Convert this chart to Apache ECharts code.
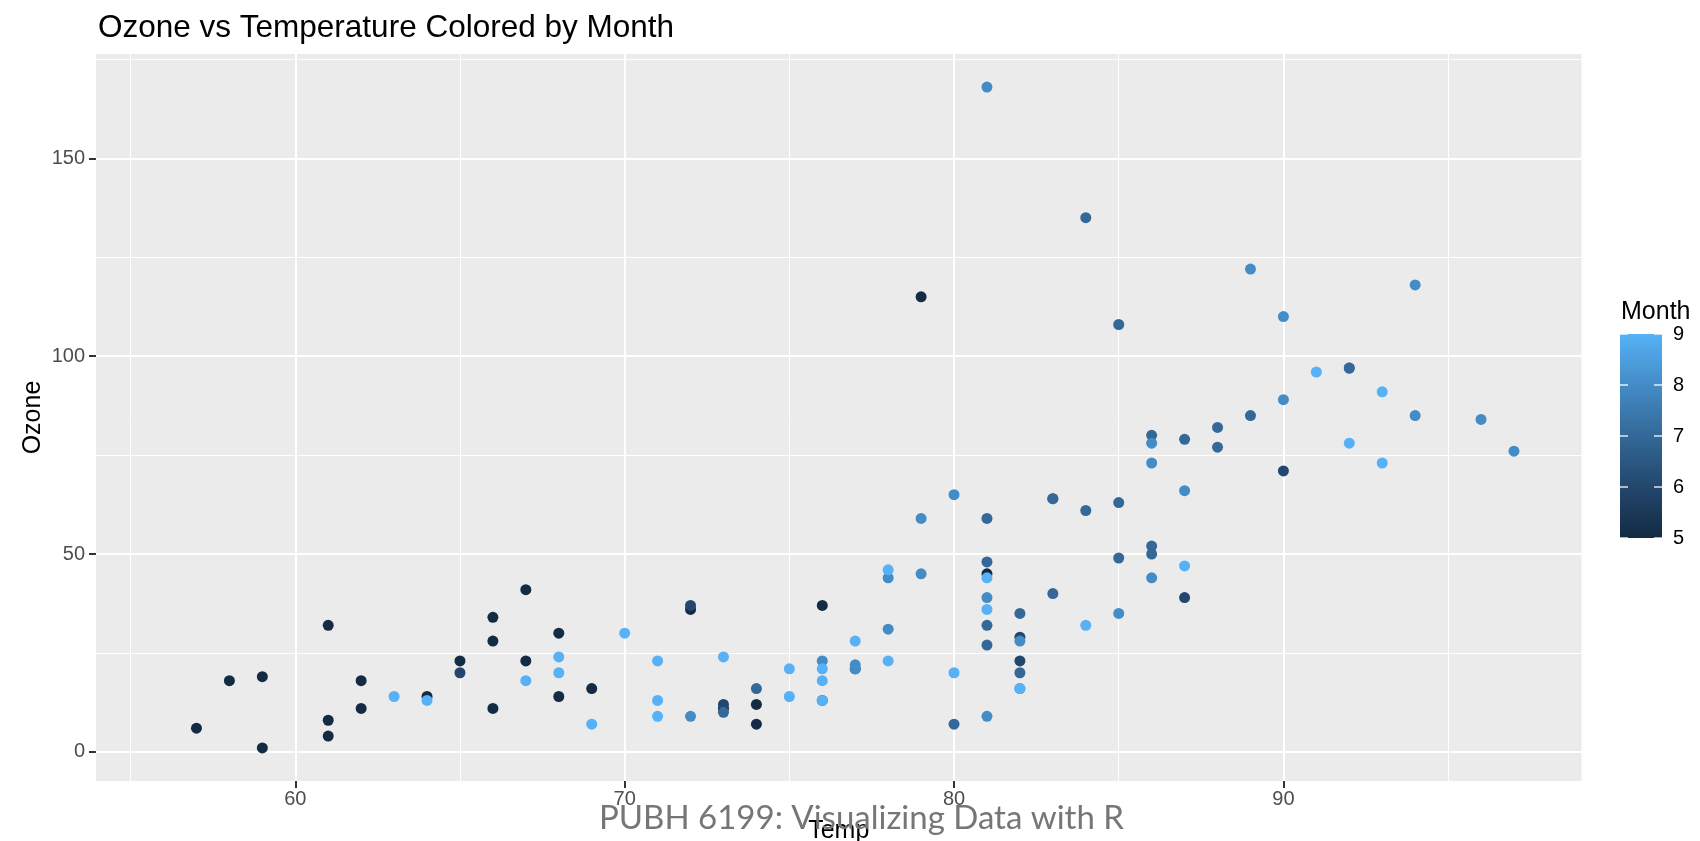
<!DOCTYPE html>
<html>
<head>
<meta charset="utf-8">
<title>Ozone vs Temperature Colored by Month</title>
<script src="https://cdn.jsdelivr.net/npm/echarts@6/dist/echarts.min.js"></script>
<style>
  html, body { margin: 0; padding: 0; background: #ffffff; }
  #chart { width: 1700px; height: 841px; }
</style>
</head>
<body>
<div id="chart"></div>
<script>
// airquality rows with a recorded Ozone value, in row order
const temp = [
  67, 72, 74, 62, 66, 65, 59, 61, 74, 69, 66, 68, 58, 64, 66, 57, 68, 62, 59, 73, 61, 61, 67, 81, 79, 76,
  82, 90, 87, 82, 77, 72, 65, 73, 76,
  84, 85, 81, 83, 83, 88, 92, 92, 89, 73, 81, 80, 81, 82, 84, 87, 85, 74, 86, 85, 82, 86, 88, 86, 83, 81,
  81, 81, 82, 86, 85, 87, 89, 90, 90, 86, 82, 80, 77, 79, 76, 78, 78, 77, 72, 79, 81, 86, 97, 94, 96, 94,
  91, 92, 93, 93, 87, 84, 80, 78, 75, 73, 81, 76, 77, 71, 71, 78, 67, 76, 68, 82, 64, 71, 81, 69, 63, 70, 75, 76, 68
];
const ozone = [
  41, 36, 12, 18, 28, 23, 19, 8, 7, 16, 11, 14, 18, 14, 34, 6, 30, 11, 1, 11, 4, 32, 23, 45, 115, 37,
  29, 71, 39, 23, 21, 37, 20, 12, 13,
  135, 49, 32, 64, 40, 77, 97, 97, 85, 10, 27, 7, 48, 35, 61, 79, 63, 16, 80, 108, 20, 52, 82, 50, 64, 59,
  39, 9, 16, 78, 35, 66, 122, 89, 110, 44, 28, 65, 22, 59, 23, 31, 44, 21, 9, 45, 168, 73, 76, 118, 84, 85,
  96, 78, 73, 91, 47, 32, 20, 23, 21, 24, 44, 21, 28, 9, 13, 46, 18, 13, 24, 16, 13, 23, 36, 7, 14, 30, 14, 18, 20
];
const month = [
  5, 5, 5, 5, 5, 5, 5, 5, 5, 5, 5, 5, 5, 5, 5, 5, 5, 5, 5, 5, 5, 5, 5, 5, 5, 5,
  6, 6, 6, 6, 6, 6, 6, 6, 6,
  7, 7, 7, 7, 7, 7, 7, 7, 7, 7, 7, 7, 7, 7, 7, 7, 7, 7, 7, 7, 7, 7, 7, 7, 7, 7,
  8, 8, 8, 8, 8, 8, 8, 8, 8, 8, 8, 8, 8, 8, 8, 8, 8, 8, 8, 8, 8, 8, 8, 8, 8, 8,
  9, 9, 9, 9, 9, 9, 9, 9, 9, 9, 9, 9, 9, 9, 9, 9, 9, 9, 9, 9, 9, 9, 9, 9, 9, 9, 9, 9, 9
];

// axis breaks
const xBreaks = [60, 70, 80, 90];
const xMinorBreaks = [55, 65, 75, 85, 95];
const yBreaks = [0, 50, 100, 150];
const yMinorBreaks = [25, 75, 125, 175];
const monthBreaks = [5, 6, 7, 8, 9];

// sequential blue gradient, Month 5 -> 9 (Lab-interpolated stops)
const monthColors = ['#132B43', '#23476C', '#336898', '#448CC6', '#56B1F7'];

const points = temp.map((t, i) => [t, ozone[i], month[i]]);

// continuous scale limits with 5% padding on each side
function padded(values) {
  const lo = Math.min(...values), hi = Math.max(...values);
  const pad = (hi - lo) * 0.05;
  return [lo - pad, hi + pad];
}
const xLim = padded(temp.concat([56]));
const yLim = padded(ozone);

const font = 'Liberation Sans, Arial, Helvetica, sans-serif';
const PANEL = { left: 96, top: 54, width: 1485.5, height: 727 };

const chart = echarts.init(document.getElementById('chart'), null, { renderer: 'canvas' });

const majorX = {
  type: 'value', gridIndex: 0, min: xLim[0], max: xLim[1], position: 'bottom',
  name: 'Temp', nameLocation: 'middle', nameGap: 38, nameMoveOverlap: false,
  nameTextStyle: { fontFamily: font, fontSize: 25, color: '#000000' },
  axisLine: { show: false, onZero: false },
  axisTick: { show: true, customValues: xBreaks, length: 7, lineStyle: { color: '#333333', width: 2 } },
  axisLabel: { customValues: xBreaks, fontFamily: font, fontSize: 20, color: '#4D4D4D', margin: 8 },
  splitLine: { show: true, lineStyle: { color: '#FFFFFF', width: 2 } },
  z: 1
};
const minorX = {
  type: 'value', gridIndex: 0, min: xLim[0], max: xLim[1], position: 'bottom',
  axisLine: { show: false, onZero: false },
  axisTick: { show: false, customValues: xMinorBreaks },
  axisLabel: { show: false, customValues: xMinorBreaks },
  splitLine: { show: true, lineStyle: { color: '#FFFFFF', width: 1 } },
  z: 0
};
const majorY = {
  type: 'value', gridIndex: 0, min: yLim[0], max: yLim[1], position: 'left',
  name: 'Ozone', nameLocation: 'middle', nameGap: 50, nameRotate: 90, nameMoveOverlap: false,
  nameTextStyle: { fontFamily: font, fontSize: 25, color: '#000000' },
  axisLine: { show: false, onZero: false },
  axisTick: { show: true, customValues: yBreaks, length: 7, lineStyle: { color: '#333333', width: 2 } },
  axisLabel: { customValues: yBreaks, fontFamily: font, fontSize: 20, color: '#4D4D4D', margin: 11 },
  splitLine: { show: true, lineStyle: { color: '#FFFFFF', width: 2 } },
  z: 1
};
const minorY = {
  type: 'value', gridIndex: 0, min: yLim[0], max: yLim[1], position: 'left',
  axisLine: { show: false, onZero: false },
  axisTick: { show: false, customValues: yMinorBreaks },
  axisLabel: { show: false, customValues: yMinorBreaks },
  splitLine: { show: true, lineStyle: { color: '#FFFFFF', width: 1 } },
  z: 0
};

// colour bar axes
const barX = { type: 'value', gridIndex: 1, min: 0, max: 1, show: false };
const barYRight = {
  type: 'value', gridIndex: 1, min: monthBreaks[0], max: monthBreaks[monthBreaks.length - 1], interval: 1,
  position: 'right',
  axisLine: { show: false, onZero: false },
  axisTick: { show: true, inside: true, length: 8, lineStyle: { color: 'rgba(255,255,255,0.85)', width: 1.5 } },
  axisLabel: { fontFamily: font, fontSize: 20, color: '#000000', margin: 11 },
  splitLine: { show: false },
  z: 10
};
const barYLeft = {
  type: 'value', gridIndex: 1, min: monthBreaks[0], max: monthBreaks[monthBreaks.length - 1], interval: 1,
  position: 'left',
  axisLine: { show: false, onZero: false },
  axisTick: { show: true, inside: true, length: 8, lineStyle: { color: 'rgba(255,255,255,0.85)', width: 1.5 } },
  axisLabel: { show: false },
  splitLine: { show: false },
  z: 10
};

const barGradient = new echarts.graphic.LinearGradient(0, 0, 0, 1,
  monthColors.slice().reverse().map((c, i, arr) => ({ offset: i / (arr.length - 1), color: c })));

const option = {
  animation: false,
  backgroundColor: '#FFFFFF',
  title: [
    {
      text: 'Ozone vs Temperature Colored by Month',
      left: 93, top: 7,
      textStyle: { fontFamily: font, fontSize: 31.5, fontWeight: 'normal', color: '#000000' }
    },
    {
      text: 'Month',
      left: 1616, top: 295,
      textStyle: { fontFamily: font, fontSize: 25, fontWeight: 'normal', color: '#000000' }
    }
  ],
  grid: [
    { left: PANEL.left, top: PANEL.top, width: PANEL.width, height: PANEL.height,
      show: true, backgroundColor: '#EBEBEB', borderWidth: 0,
      containLabel: false, outerBoundsMode: 'none' },
    { left: 1620, top: 334, width: 42, height: 204, show: false,
      containLabel: false, outerBoundsMode: 'none' }
  ],
  xAxis: [majorX, minorX, barX],
  yAxis: [majorY, minorY, barYRight, barYLeft],
  visualMap: {
    type: 'continuous', show: false, seriesIndex: 0, dimension: 2,
    min: monthBreaks[0], max: monthBreaks[monthBreaks.length - 1],
    inRange: { color: monthColors }
  },
  series: [
    {
      type: 'scatter', xAxisIndex: 0, yAxisIndex: 0,
      data: points, symbol: 'circle', symbolSize: 11,
      itemStyle: { opacity: 1, borderWidth: 0 },
      z: 5
    },
    {
      type: 'custom', xAxisIndex: 2, yAxisIndex: 2,
      data: [[0, monthBreaks[0], 1, monthBreaks[monthBreaks.length - 1]]],
      renderItem: function (params, api) {
        const p1 = api.coord([api.value(0), api.value(3)]);
        const p2 = api.coord([api.value(2), api.value(1)]);
        return {
          type: 'rect',
          shape: { x: p1[0], y: p1[1], width: p2[0] - p1[0], height: p2[1] - p1[1] },
          style: { fill: barGradient }
        };
      },
      z: 2
    }
  ],
  graphic: [
    {
      type: 'text', x: 861.5, y: 835, z: 100,
      style: {
        text: 'PUBH 6199: Visualizing Data with R',
        fontFamily: 'Lato, "Noto Sans", sans-serif', fontSize: 33,
        fill: '#767676', align: 'center', verticalAlign: 'bottom'
      }
    }
  ]
};

chart.setOption(option);
</script>
</body>
</html>
